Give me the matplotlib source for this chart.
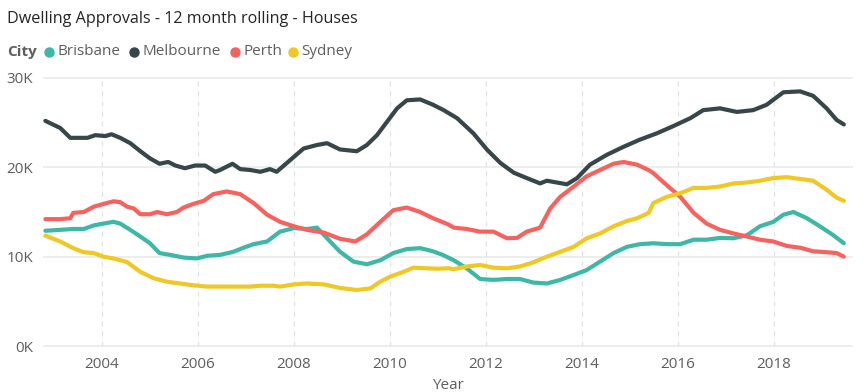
import matplotlib
matplotlib.use('Agg')
import matplotlib.pyplot as plt
from matplotlib.lines import Line2D

plt.rcParams['font.family'] = ['Open Sans', 'DejaVu Sans']

# data (year, thousands of approvals)
melb_x = [2002.82, 2003.13, 2003.34, 2003.55, 2003.7, 2003.86, 2004.07, 2004.2, 2004.38, 2004.59,
          2004.8, 2005.0, 2005.2, 2005.38, 2005.53, 2005.73, 2005.94, 2006.15, 2006.36, 2006.46,
          2006.72, 2006.88, 2007.09, 2007.3, 2007.5, 2007.64, 2007.92, 2008.2, 2008.48, 2008.69,
          2008.96, 2009.31, 2009.52, 2009.73, 2009.94, 2010.15, 2010.35, 2010.63, 2010.9, 2011.12,
          2011.4, 2011.74, 2012.02, 2012.3, 2012.58, 2012.85, 2013.13, 2013.27, 2013.69, 2013.9,
          2014.17, 2014.52, 2014.87, 2015.21, 2015.56, 2015.9, 2016.26, 2016.53, 2016.88, 2017.23,
          2017.57, 2017.85, 2018.2, 2018.55, 2018.82, 2019.1, 2019.31, 2019.46]
melb_y = [25.2, 24.4, 23.3, 23.3, 23.3, 23.6, 23.5, 23.7, 23.3, 22.7,
          21.8, 21.0, 20.4, 20.6, 20.2, 19.9, 20.2, 20.2, 19.5, 19.7,
          20.4, 19.8, 19.7, 19.5, 19.8, 19.5, 20.8, 22.1, 22.5, 22.7,
          22.0, 21.8, 22.5, 23.6, 25.1, 26.6, 27.5, 27.6, 27.0, 26.4,
          25.5, 23.8, 22.0, 20.5, 19.4, 18.8, 18.2, 18.5, 18.1, 18.8,
          20.3, 21.4, 22.3, 23.1, 23.8, 24.6, 25.5, 26.4, 26.6, 26.2,
          26.4, 27.0, 28.4, 28.5, 28.0, 26.6, 25.3, 24.8]

perth_x = [2002.82, 2003.13, 2003.34, 2003.4, 2003.62, 2003.83, 2004.03, 2004.24, 2004.38, 2004.52,
           2004.66, 2004.8, 2005.0, 2005.15, 2005.35, 2005.56, 2005.7, 2005.9, 2006.12, 2006.32,
           2006.6, 2006.88, 2007.16, 2007.44, 2007.71, 2008.0, 2008.27, 2008.62, 2008.96, 2009.28,
           2009.52, 2009.8, 2010.07, 2010.35, 2010.63, 2010.9, 2011.22, 2011.33, 2011.6, 2011.88,
           2012.16, 2012.44, 2012.65, 2012.85, 2013.13, 2013.34, 2013.55, 2013.83, 2014.1, 2014.38,
           2014.66, 2014.87, 2015.15, 2015.39, 2015.49, 2015.77, 2016.05, 2016.33, 2016.6, 2016.88,
           2017.16, 2017.44, 2017.71, 2017.99, 2018.27, 2018.55, 2018.82, 2019.1, 2019.31, 2019.46]
perth_y = [14.2, 14.2, 14.3, 14.9, 15.0, 15.6, 15.9, 16.2, 16.1, 15.6,
           15.4, 14.75, 14.75, 15.0, 14.75, 15.0, 15.5, 15.9, 16.25, 17.0,
           17.3, 17.0, 16.0, 14.7, 13.9, 13.4, 13.0, 12.7, 12.0, 11.7,
           12.5, 13.9, 15.2, 15.5, 15.0, 14.3, 13.6, 13.25, 13.1, 12.8,
           12.8, 12.06, 12.1, 12.8, 13.25, 15.4, 16.7, 17.85, 19.0, 19.7,
           20.4, 20.6, 20.3, 19.7, 19.35, 18.0, 16.7, 14.9, 13.7, 13.0,
           12.6, 12.25, 11.9, 11.7, 11.2, 11.0, 10.6, 10.5, 10.4, 10.0]

bris_x = [2002.82, 2003.13, 2003.4, 2003.62, 2003.83, 2004.03, 2004.24, 2004.38, 2004.59, 2004.8,
          2005.0, 2005.2, 2005.42, 2005.7, 2005.98, 2006.19, 2006.46, 2006.74, 2006.95, 2007.16,
          2007.44, 2007.71, 2008.0, 2008.27, 2008.48, 2008.69, 2008.96, 2009.24, 2009.52, 2009.8,
          2010.07, 2010.35, 2010.63, 2010.9, 2011.1, 2011.33, 2011.6, 2011.88, 2012.16, 2012.44,
          2012.71, 2012.99, 2013.27, 2013.55, 2013.83, 2014.1, 2014.38, 2014.66, 2014.94, 2015.21,
          2015.49, 2015.77, 2016.05, 2016.33, 2016.6, 2016.88, 2017.16, 2017.44, 2017.71, 2017.99,
          2018.2, 2018.41, 2018.69, 2018.96, 2019.24, 2019.46]
bris_y = [12.9, 13.0, 13.1, 13.1, 13.5, 13.7, 13.9, 13.7, 13.0, 12.25,
          11.5, 10.4, 10.2, 9.9, 9.8, 10.1, 10.2, 10.55, 11.0, 11.4,
          11.7, 12.8, 13.2, 13.1, 13.25, 12.06, 10.55, 9.45, 9.15, 9.6,
          10.4, 10.85, 10.95, 10.6, 10.2, 9.6, 8.7, 7.5, 7.4, 7.5,
          7.5, 7.1, 7.0, 7.4, 7.95, 8.5, 9.45, 10.4, 11.1, 11.4,
          11.5, 11.4, 11.4, 11.9, 11.9, 12.1, 12.06, 12.4, 13.4, 13.9,
          14.7, 15.0, 14.3, 13.4, 12.4, 11.5]

syd_x = [2002.82, 2003.13, 2003.4, 2003.62, 2003.83, 2004.03, 2004.24, 2004.52, 2004.8, 2005.07,
         2005.35, 2005.63, 2005.9, 2006.19, 2006.6, 2007.09, 2007.3, 2007.57, 2007.71, 2008.0,
         2008.27, 2008.62, 2008.96, 2009.31, 2009.59, 2009.8, 2010.0, 2010.28, 2010.49, 2010.77,
         2010.98, 2011.22, 2011.33, 2011.6, 2011.88, 2012.16, 2012.44, 2012.71, 2012.99, 2013.27,
         2013.55, 2013.83, 2014.1, 2014.38, 2014.66, 2014.94, 2015.15, 2015.39, 2015.49, 2015.77,
         2016.05, 2016.33, 2016.6, 2016.88, 2017.16, 2017.44, 2017.71, 2017.99, 2018.27, 2018.55,
         2018.82, 2019.1, 2019.31, 2019.46]
syd_y = [12.35, 11.7, 10.95, 10.5, 10.4, 10.0, 9.8, 9.4, 8.3, 7.6,
         7.2, 7.0, 6.8, 6.65, 6.65, 6.65, 6.75, 6.75, 6.65, 6.9,
         7.0, 6.9, 6.5, 6.27, 6.45, 7.2, 7.75, 8.3, 8.77, 8.7,
         8.65, 8.7, 8.6, 8.9, 9.07, 8.77, 8.7, 8.9, 9.37, 10.0,
         10.55, 11.1, 12.06, 12.6, 13.4, 14.0, 14.3, 14.9, 16.0, 16.7,
         17.1, 17.7, 17.7, 17.85, 18.2, 18.3, 18.5, 18.8, 18.9, 18.7,
         18.5, 17.5, 16.6, 16.25]

cities = ['Brisbane', 'Melbourne', 'Perth', 'Sydney']
colors = ['#3DB8A7', '#374649', '#F7625E', '#F0C823']
series = [(bris_x, bris_y), (melb_x, melb_y), (perth_x, perth_y), (syd_x, syd_y)]
year_ticks = [2004, 2006, 2008, 2010, 2012, 2014, 2016, 2018]
value_ticks = [0, 10, 20, 30]

fig = plt.figure(figsize=(8.68, 3.92), dpi=100)
ax = fig.add_axes([0.0495, 0.1082, 0.9332, 0.702])

for (xs, ys), c in zip(series, colors):
    ax.plot(xs, [v * 1000 for v in ys], color=c, lw=3.0, solid_capstyle='round',
            solid_joinstyle='round')

ax.set_xlim(2002.77, 2019.65)
ax.set_ylim(-400, 30400)
ax.set_yticks([v * 1000 for v in value_ticks])
ax.set_yticklabels(['%dK' % v for v in value_ticks])
ax.set_xticks(year_ticks)
ax.set_xticklabels([str(y) for y in year_ticks])

for v in value_ticks:
    ax.axhline(v * 1000, color='#EAEAEA', lw=1.2, zorder=0)
for y in year_ticks:
    ax.plot([y, y], [0, 30000], color='#E3E3E3', lw=0.9, ls=(0, (4, 4)), zorder=0)

for s in ax.spines.values():
    s.set_visible(False)
ax.tick_params(length=0, labelsize=11, colors='#605E5C', pad=5)
ax.tick_params(axis='y', pad=7)
ax.set_xlabel('Year', fontsize=11, color='#605E5C', labelpad=5)

fig.text(0.008, 0.952, 'Dwelling Approvals - 12 month rolling - Houses',
         fontsize=11.6, color='#252423', va='center')

# legend row
fig.text(0.008, 0.868, 'City', fontsize=11, color='#605E5C', fontweight='bold', va='center')
dot_px = [49.3, 134.3, 235.3, 293.3]
for name, c, px in zip(cities, colors, dot_px):
    fig.add_artist(Line2D([px / 868], [0.868], marker='o', ms=6.5, color=c, mec=c,
                          transform=fig.transFigure))
    fig.text((px + 8) / 868, 0.868, name, fontsize=11, color='#605E5C', va='center')

fig.savefig('out.png', dpi=100)
